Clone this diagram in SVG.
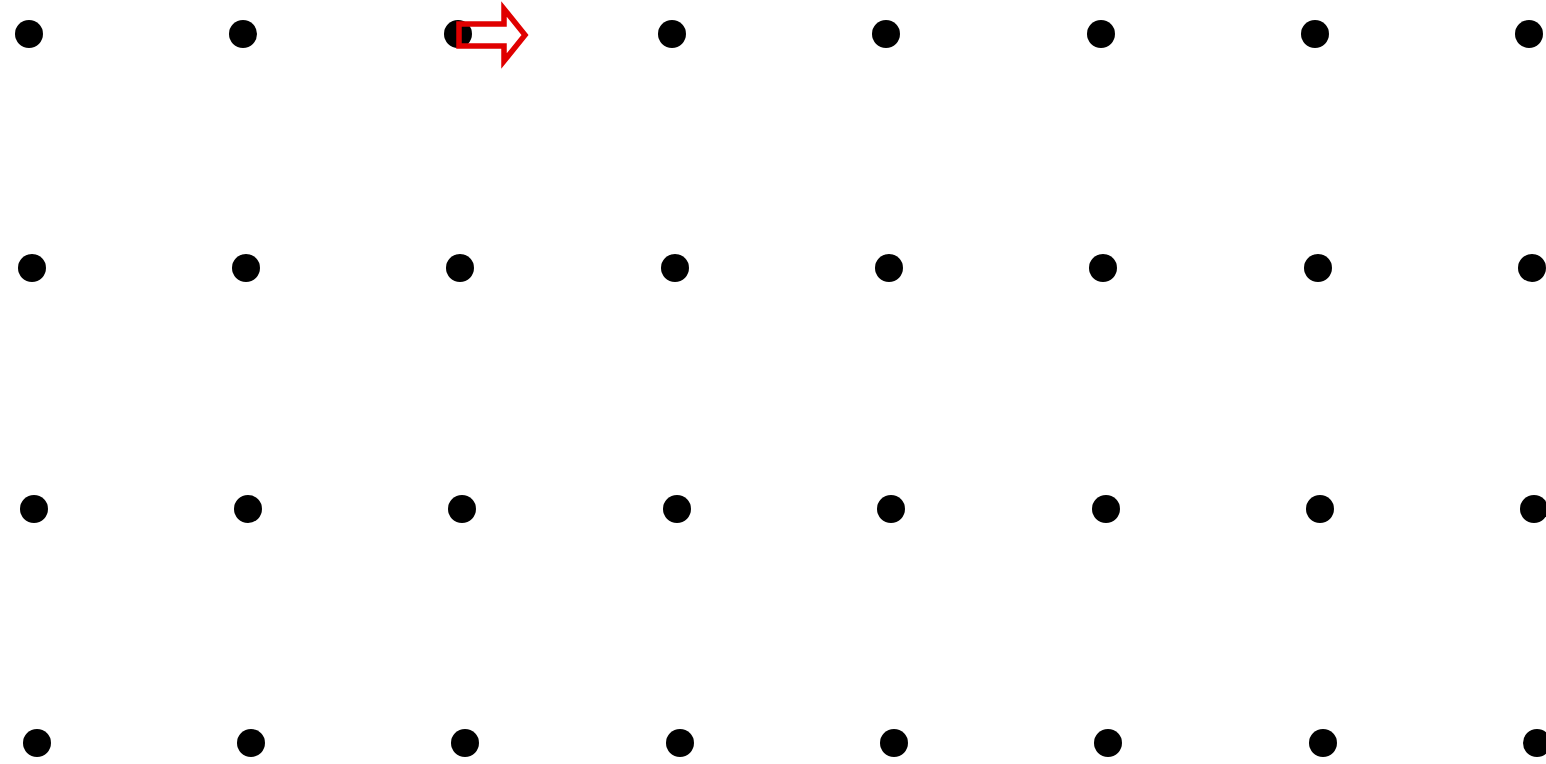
<svg xmlns="http://www.w3.org/2000/svg" width="1546" height="764" viewBox="0 0 1546 764">
<style>
.dot{fill:#000}
.arrow{fill:none;stroke:#e00000;stroke-width:5.5;stroke-linejoin:miter}
</style>
<rect width="1546" height="764" fill="#fff"/>
<g id="row1">
<circle class="dot" cx="29" cy="34" r="14"/><circle class="dot" cx="243" cy="34" r="14"/><circle class="dot" cx="458" cy="34" r="14"/><circle class="dot" cx="672" cy="34" r="14"/><circle class="dot" cx="886" cy="34" r="14"/><circle class="dot" cx="1101" cy="34" r="14"/><circle class="dot" cx="1315" cy="34" r="14"/><circle class="dot" cx="1529" cy="34" r="14"/>
</g>
<g id="row2">
<circle class="dot" cx="32" cy="268" r="14"/><circle class="dot" cx="246" cy="268" r="14"/><circle class="dot" cx="460" cy="268" r="14"/><circle class="dot" cx="675" cy="268" r="14"/><circle class="dot" cx="889" cy="268" r="14"/><circle class="dot" cx="1103" cy="268" r="14"/><circle class="dot" cx="1318" cy="268" r="14"/><circle class="dot" cx="1532" cy="268" r="14"/>
</g>
<g id="row3">
<circle class="dot" cx="34" cy="509" r="14"/><circle class="dot" cx="248" cy="509" r="14"/><circle class="dot" cx="462" cy="509" r="14"/><circle class="dot" cx="677" cy="509" r="14"/><circle class="dot" cx="891" cy="509" r="14"/><circle class="dot" cx="1106" cy="509" r="14"/><circle class="dot" cx="1320" cy="509" r="14"/><circle class="dot" cx="1534" cy="509" r="14"/>
</g>
<g id="row4">
<circle class="dot" cx="37" cy="743" r="14"/><circle class="dot" cx="251" cy="743" r="14"/><circle class="dot" cx="465" cy="743" r="14"/><circle class="dot" cx="680" cy="743" r="14"/><circle class="dot" cx="894" cy="743" r="14"/><circle class="dot" cx="1108" cy="743" r="14"/><circle class="dot" cx="1323" cy="743" r="14"/><circle class="dot" cx="1537" cy="743" r="14"/>
</g>
<g id="arrow">
<polygon class="arrow" points="459,24 504,24 504,9 525,35 504,61 504,46 459,46"/>
</g>
</svg>
